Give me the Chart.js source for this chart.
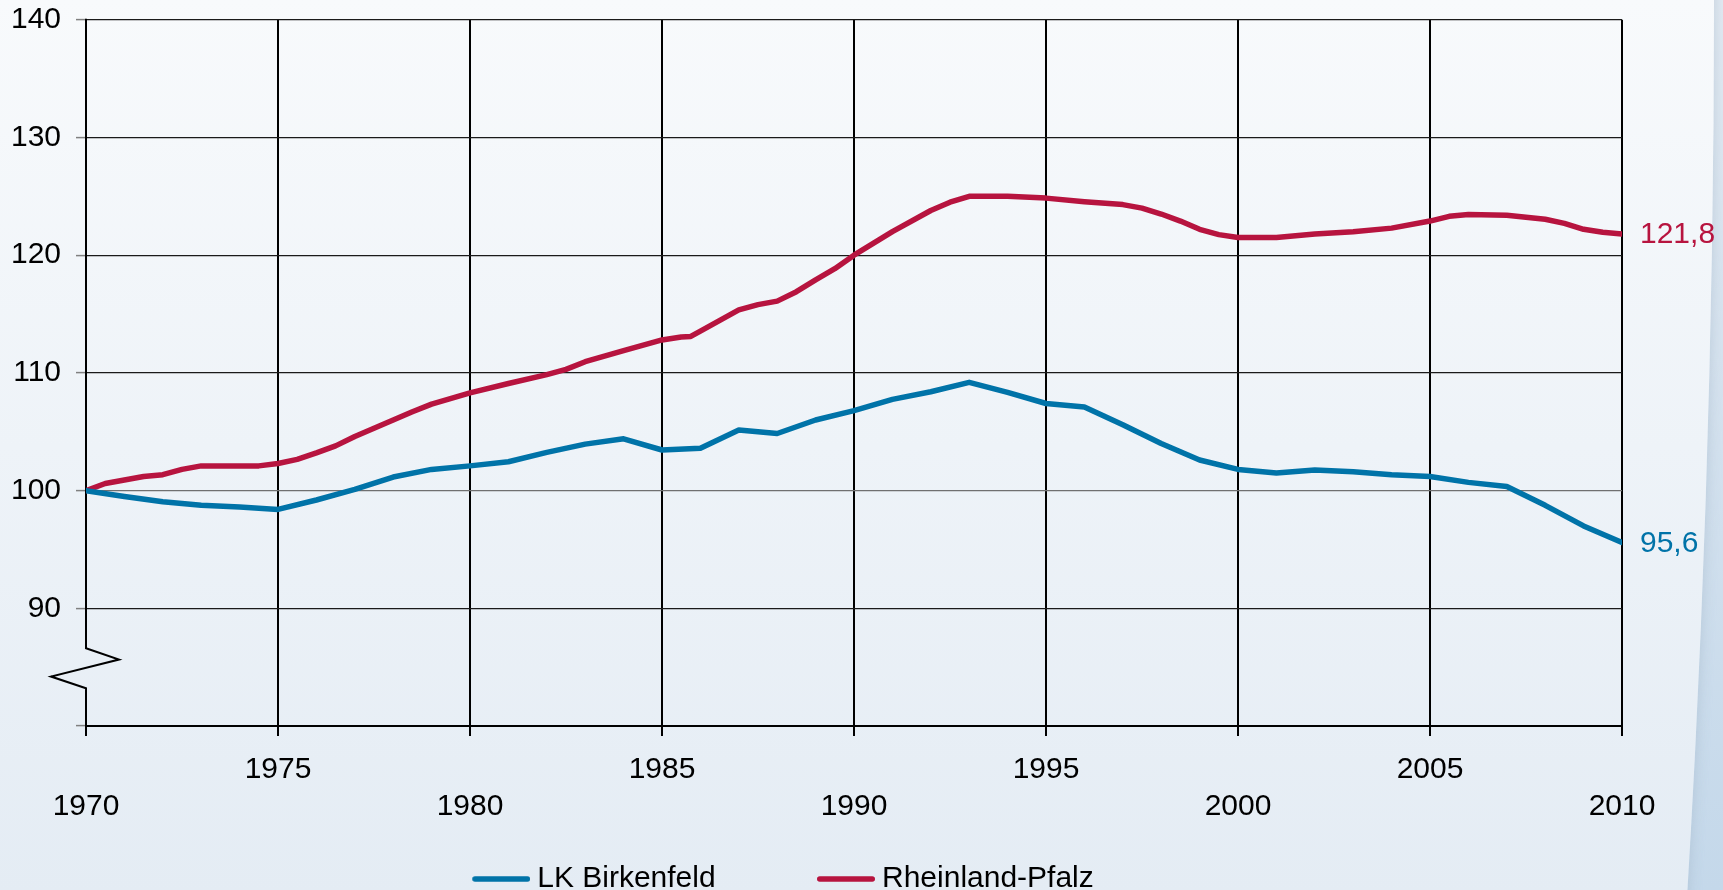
<!DOCTYPE html>
<html>
<head>
<meta charset="utf-8">
<script src="https://cdn.jsdelivr.net/npm/chart.js@4.4.1/dist/chart.umd.min.js"></script>
<style>
  html, body { margin:0; padding:0; width:1723px; height:890px; overflow:hidden;
    background: linear-gradient(to bottom, #e2eaf2 0%, #c4d8ea 100%); position:relative; }
  #bg { position:absolute; left:-1714px; top:-5075px; width:3428px; height:10150px; border-radius:50%;
    background: linear-gradient(to bottom, #f8fafc 0%, #f8fafc 50%, #e4ecf4 58.8%, #dfe8f1 100%);
    box-shadow: 0 0 14px rgba(150,170,190,0.45); }
  #c { position:absolute; left:0; top:0; }
</style>
</head>
<body>
<div id="bg"></div>
<canvas id="c" width="1723" height="904"></canvas>
<script>
// ---- data ----
const seriesNames = ['LK Birkenfeld', 'Rheinland-Pfalz'];
const birkenfeldYears = [1970,1971,1972,1973,1974,1975,1976,1977,1978,1979,1980,1981,1982,1983,1984,1985,1986,1987,1988,1989,1990,1991,1992,1993,1994,1995,1996,1997,1998,1999,2000,2001,2002,2003,2004,2005,2006,2007,2008,2009,2010];
const birkenfeldValues = [100.0,99.5,99.05,98.75,98.6,98.4,99.2,100.1,101.15,101.8,102.1,102.45,103.25,103.95,104.4,103.45,103.6,105.15,104.85,106.0,106.8,107.75,108.4,109.2,108.35,107.4,107.1,105.6,104.0,102.6,101.8,101.5,101.75,101.6,101.35,101.2,100.7,100.35,98.75,97.0,95.6];
const rlpYears = [1970,1970.5,1971,1971.5,1972,1972.5,1973,1974,1974.5,1975,1975.5,1976,1976.5,1977,1977.5,1978,1978.5,1979,1980,1981,1982,1982.5,1983,1984,1985,1985.5,1985.75,1986,1987,1987.5,1988,1988.5,1989,1989.5,1990,1991,1992,1992.5,1993,1994,1995,1996,1997,1997.5,1998,1998.5,1999,1999.5,2000,2001,2002,2003,2004,2005,2005.5,2006,2007,2008,2008.5,2009,2009.5,2010];
const rlpValues = [100.0,100.6,100.9,101.2,101.35,101.8,102.1,102.1,102.1,102.3,102.65,103.2,103.8,104.6,105.3,106.0,106.7,107.35,108.3,109.1,109.85,110.3,110.95,111.9,112.8,113.05,113.1,113.55,115.35,115.8,116.1,116.9,117.9,118.85,120.0,122.0,123.8,124.5,125.0,125.0,124.85,124.55,124.3,124.0,123.5,122.9,122.2,121.75,121.5,121.5,121.8,122.0,122.3,122.9,123.3,123.45,123.4,123.05,122.7,122.2,121.95,121.8];
const yTicks = [80, 90, 100, 110, 120, 130, 140];
const xTicks = [1970, 1975, 1980, 1985, 1990, 1995, 2000, 2005, 2010];

const BLUE = '#0073a8', RED = '#b7143f';
const FONT = '"Liberation Sans", Arial, sans-serif';
Chart.defaults.font.family = FONT;
Chart.defaults.color = '#000';

const toPoints = (xs, ys) => xs.map((x, i) => ({x, y: ys[i]}));

// legend line sample (drawn as a point-style image so the text sits close to it)
function legendLine(color) {
  const c = document.createElement('canvas');
  c.width = 66; c.height = 8;
  const g = c.getContext('2d');
  g.strokeStyle = color; g.lineWidth = 5.5; g.lineCap = 'round';
  g.beginPath(); g.moveTo(10.75, 4); g.lineTo(63.25, 4); g.stroke();
  return c;
}

const axisBreak = {
  id: 'axisBreak',
  beforeDatasetsDraw(chart) {
    const {ctx, scales: {x, y}} = chart;
    const x0 = x.getPixelForValue(xTicks[0]);
    const yTop = y.getPixelForValue(140), yBot = y.getPixelForValue(80);
    const b1 = y.getPixelForValue(86.6), b2 = y.getPixelForValue(85.65),
          b3 = y.getPixelForValue(84.2), b4 = y.getPixelForValue(83.2);
    ctx.save();
    ctx.strokeStyle = '#000'; ctx.lineWidth = 2; ctx.lineJoin = 'miter';
    ctx.beginPath();
    ctx.moveTo(x0, yTop - 1); ctx.lineTo(x0, b1); ctx.lineTo(x0 + 33, b2);
    ctx.lineTo(x0 - 35, b3); ctx.lineTo(x0, b4); ctx.lineTo(x0, yBot + 1);
    ctx.stroke();
    ctx.restore();
  }
};

const endLabels = {
  id: 'endLabels',
  afterDatasetsDraw(chart) {
    const ctx = chart.ctx;
    ctx.save();
    ctx.font = '30px ' + FONT;
    ctx.textAlign = 'left'; ctx.textBaseline = 'middle';
    chart.data.datasets.forEach((ds, i) => {
      const meta = chart.getDatasetMeta(i);
      const pt = meta.data[meta.data.length - 1];
      const v = ds.data[ds.data.length - 1].y;
      ctx.fillStyle = ds.borderColor;
      ctx.fillText(v.toFixed(1).replace('.', ','), pt.x + 18, pt.y + 1);
    });
    ctx.restore();
  }
};

const legendShift = {
  id: 'legendShift',
  afterLayout(chart) {
    if (chart.legend) { chart.legend.left -= 28; chart.legend.right -= 28; }
  }
};

new Chart(document.getElementById('c'), {
  type: 'line',
  data: {
    datasets: [
      { label: seriesNames[0], data: toPoints(birkenfeldYears, birkenfeldValues), borderColor: BLUE, backgroundColor: BLUE,
        borderWidth: 5.5, pointRadius: 0, tension: 0, borderJoinStyle: 'round', borderCapStyle: 'round', pointStyle: legendLine(BLUE) },
      { label: seriesNames[1], data: toPoints(rlpYears, rlpValues), borderColor: RED, backgroundColor: RED,
        borderWidth: 5.5, pointRadius: 0, tension: 0, borderJoinStyle: 'round', borderCapStyle: 'round', pointStyle: legendLine(RED) }
    ]
  },
  options: {
    responsive: false,
    animation: false,
    devicePixelRatio: 1,
    layout: { padding: { top: 0, right: 101, left: 0, bottom: 0 } },
    plugins: {
      tooltip: { enabled: false },
      legend: {
        display: true, position: 'bottom', align: 'center',
        labels: {
          usePointStyle: true, pointStyleWidth: 50, boxHeight: 30, padding: 43,
          font: { size: 30, family: FONT }, color: '#000',
          generateLabels: chart => {
            const items = Chart.defaults.plugins.legend.labels.generateLabels(chart);
            items.forEach((it, i) => { if (i === 0) it.text = it.text + '\u00a0'.repeat(7); });
            return items;
          }
        }
      }
    },
    scales: {
      x: {
        type: 'linear', min: 1970, max: 2010,
        afterBuildTicks: s => { s.ticks = xTicks.map(v => ({value: v})); },
        afterFit: s => { s.height = 95; },
        ticks: {
          padding: 14.5, maxRotation: 0, autoSkip: false,
          font: { size: 30, family: FONT, lineHeight: 1.25 }, color: '#000',
          callback: v => (v % 10 === 0) ? ['', String(v)] : [String(v), '']
        },
        grid: {
          color: c => (c.tick && c.tick.value === 1970) ? 'rgba(0,0,0,0)' : '#000',
          lineWidth: 2, tickColor: '#000', tickLength: 10, tickWidth: 2
        },
        border: { display: true, color: '#000', width: 2 }
      },
      y: {
        type: 'linear', min: 80, max: 140,
        afterBuildTicks: s => { s.ticks = yTicks.map(v => ({value: v})); },
        afterFit: s => { s.width = 86; },
        ticks: {
          padding: 15, font: { size: 30, family: FONT, lineHeight: 0.32 }, color: '#000',
          callback: v => (v === 80 ? '' : String(v))
        },
        grid: {
          color: c => (c.tick && c.tick.value === 100) ? '#707070' : '#1a1a1a',
          lineWidth: 1.2, tickColor: '#808080', tickLength: 10, tickWidth: 1.5
        },
        border: { display: false }
      }
    }
  },
  plugins: [axisBreak, endLabels, legendShift]
});
</script>
</body>
</html>
